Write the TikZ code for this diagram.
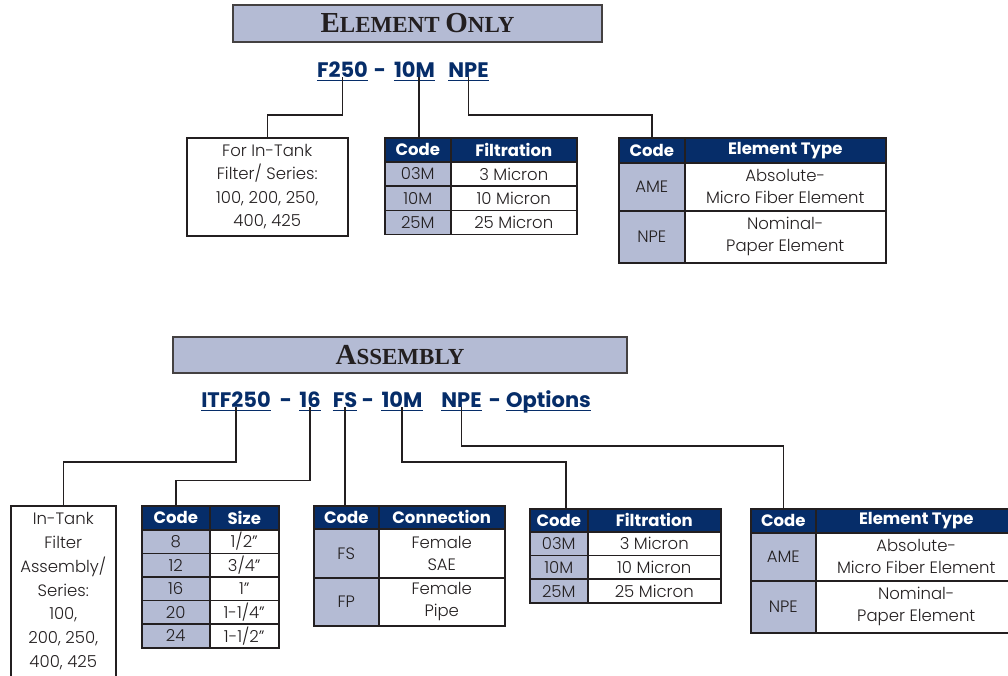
\documentclass[tikz,border=0pt]{standalone}
\usepackage{fontspec}
\setmainfont{Poppins}[UprightFont=* Light,BoldFont=* Bold]
\newfontfamily\serifcaps{Liberation Serif}
\definecolor{navy}{RGB}{6,45,105}
\definecolor{pale}{RGB}{180,187,212}
\definecolor{ink}{RGB}{35,31,32}
\newcommand{\capsc}[2]{{\fontsize{29}{29}\selectfont #1}{\fontsize{23}{23}\selectfont #2}}

\begin{document}
\begin{tikzpicture}[x=1pt,y=-1pt,
    cell/.style={draw=ink,line width=1.5pt,anchor=north west,inner sep=0pt,align=center,text=ink,font=\fontsize{16.5}{22}\selectfont},
    head/.style={cell,fill=navy,text=white,font=\bfseries\fontsize{16.5}{20}\selectfont},
    codecell/.style={cell,fill=pale},
    titlebox/.style={draw=ink!85,fill=pale,line width=1.5pt,inner sep=0pt,text=ink,font=\serifcaps\bfseries\fontsize{23}{23}\selectfont},
    code/.style={anchor=base,inner sep=0pt,text=navy,font=\bfseries\fontsize{21}{24}\selectfont},
    wire/.style={draw=ink,line width=1.5pt},
    uline/.style={draw=navy,line width=1.8pt}]
        \clip (0,0) rectangle (1008,675);
        % element only
        \node[titlebox,minimum width=369,minimum height=37] (ttlA) at (417.5,23.5) {\capsc{E}{LEMENT} \capsc{O}{NLY}};
        \node[code] (f250) at (342.5,77) {F250};
        \node[code] (dashA) at (380,77) {-};
        \node[code] (m10) at (414.5,77) {10M};
        \node[code] (npe) at (468.5,77) {NPE};
        \foreach \n in {f250,m10,npe}
            \draw[uline] ([yshift=-3.5]\n.base west) -- ([yshift=-3.5]\n.base east);
        \node[cell,minimum width=161,minimum height=98,font=\fontsize{16.5}{23.5}\selectfont] (forbox) at (186,137) {For In-Tank\\Filter/ Series:\\100, 200, 250,\\400, 425};
        \node[head,minimum width=66,minimum height=24] (fhc) at (384,137) {Code};
        \node[head,minimum width=126,minimum height=24] (fhf) at (450,137) {Filtration};
        \foreach \c/\t [count=\i from 0] in {03M/3 Micron,10M/10 Micron,25M/25 Micron}{
            \node[codecell,minimum width=66,minimum height=24.3] (fc\i) at (384,161+24.3*\i) {\c};
            \node[cell,minimum width=126,minimum height=24.3] (ft\i) at (450,161+24.3*\i) {\t};
        }
        \node[head,minimum width=66,minimum height=25] (ehc) at (618,137) {Code};
        \node[head,minimum width=201,minimum height=25] (eht) at (684,137) {Element Type};
        \node[codecell,minimum width=66,minimum height=48] (ec0) at (618,162) {AME};
        \node[cell,minimum width=201,minimum height=48] (et0) at (684,162) {Absolute-\\Micro Fiber Element};
        \node[codecell,minimum width=66,minimum height=52] (ec1) at (618,210) {NPE};
        \node[cell,minimum width=201,minimum height=52] (et1) at (684,210) {Nominal-\\Paper Element};
        \draw[wire] (f250.south) -- ++(0,38) -| (forbox.north);
        \draw[wire] ([xshift=4.5]m10.south) -- ([xshift=4.5]m10.south |- fhc.north);
        \draw[wire] (npe.south) -- ++(0,38) -| (ehc.north);
        % assembly
        \node[titlebox,minimum width=454,minimum height=36] (ttlB) at (400,355) {\capsc{A}{SSEMBLY}};
        \node[code] (itf) at (236,407) {ITF250};
        \node[code] (dashB) at (286,407) {-};
        \node[code] (s16) at (310,407) {16};
        \node[code] (fs) at (345,407) {FS};
        \node[code] (dashC) at (368,407) {-};
        \node[code] (m10b) at (402,407) {10M};
        \node[code] (npeb) at (461.5,407) {NPE};
        \node[code] (dashD) at (495,407) {-};
        \node[code] (opts) at (548.5,407) {Options};
        \foreach \n in {itf,s16,fs,m10b,npeb,opts}
            \draw[uline] ([yshift=-3.5]\n.base west) -- ([yshift=-3.5]\n.base east);
        \node[cell,minimum width=105] (tankbox) at (10,505) {\parbox[c][190pt][t]{105pt}{\vspace*{7pt}\centering\fontsize{16.5}{23.7}\selectfont In-Tank\\Filter\\Assembly/\\Series:\\100,\\200, 250,\\400, 425}};
        \node[head,minimum width=68,minimum height=24] (shc) at (141,505) {Code};
        \node[head,minimum width=69,minimum height=24] (shs) at (209,505) {Size};
        \foreach \c/\s [count=\i from 0] in {8/{1/2”},12/{3/4”},16/{1”},20/{1-1/4”},24/{1-1/2”}}{
            \node[codecell,minimum width=68,minimum height=23.6] (sc\i) at (141,529+23.6*\i) {\c};
            \node[cell,minimum width=69,minimum height=23.6] (ss\i) at (209,529+23.6*\i) {\s};
        }
        \node[head,minimum width=65,minimum height=23] (chc) at (313,505) {Code};
        \node[head,minimum width=126,minimum height=23] (chn) at (378,505) {Connection};
        \node[codecell,minimum width=65,minimum height=49] (cc0) at (313,528) {FS};
        \node[cell,minimum width=126,minimum height=49] (cn0) at (378,528) {Female\\SAE};
        \node[codecell,minimum width=65,minimum height=48] (cc1) at (313,577) {FP};
        \node[cell,minimum width=126,minimum height=48] (cn1) at (378,577) {Female\\Pipe};
        \node[head,minimum width=58,minimum height=23] (fhc2) at (529,508) {Code};
        \node[head,minimum width=133,minimum height=23] (fhf2) at (587,508) {Filtration};
        \foreach \c/\t [count=\i from 0] in {03M/3 Micron,10M/10 Micron,25M/25 Micron}{
            \node[codecell,minimum width=58,minimum height=23.7] (gc\i) at (529,531+23.7*\i) {\c};
            \node[cell,minimum width=133,minimum height=23.7] (gt\i) at (587,531+23.7*\i) {\t};
        }
        \node[head,minimum width=65,minimum height=24] (ehc2) at (750,508) {Code};
        \node[head,minimum width=201,minimum height=24] (eht2) at (815,508) {Element Type};
        \node[codecell,minimum width=65,minimum height=48] (ed0) at (750,532) {AME};
        \node[cell,minimum width=201,minimum height=48] (eu0) at (815,532) {Absolute-\\Micro Fiber Element};
        \node[codecell,minimum width=65,minimum height=52] (ed1) at (750,580) {NPE};
        \node[cell,minimum width=201,minimum height=52] (eu1) at (815,580) {Nominal-\\Paper Element};
        \draw[wire] (itf.south) -- ++(0,55) -| (tankbox.north);
        \draw[wire] (s16.south) -- ++(0,73) -| (shc.north);
        \draw[wire] (fs.south) -- (fs.south |- chc.north);
        \draw[wire] (m10b.south) -- ++(0,55) -| ([xshift=7]fhc2.north);
        \draw[wire] (npeb.south) -- ++(0,39) -| (ehc2.north);
\end{tikzpicture}
\end{document}
